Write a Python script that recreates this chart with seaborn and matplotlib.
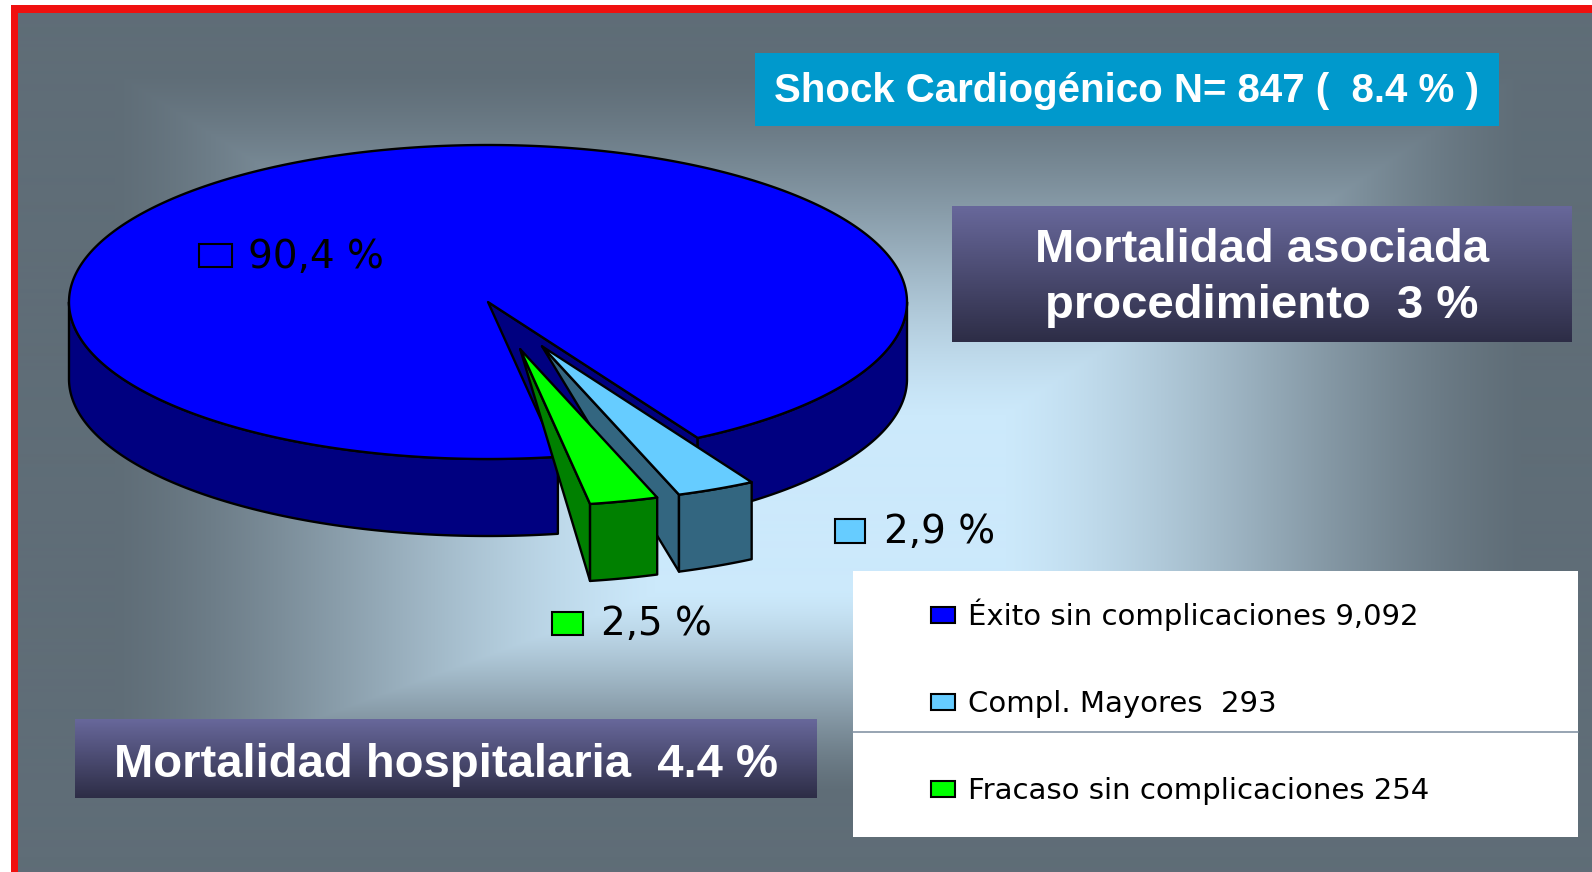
import numpy as np
import matplotlib
matplotlib.use("Agg")
import matplotlib.pyplot as plt
from matplotlib.patches import Rectangle, Polygon
from matplotlib.colors import LinearSegmentedColormap, to_rgb
import seaborn as sns

# ---------------- data ----------------
categories = ["Éxito sin complicaciones", "Compl. Mayores", "Fracaso sin complicaciones"]
counts = [9092, 293, 254]
legend_labels = ["Éxito sin complicaciones 9,092", "Compl. Mayores  293", "Fracaso sin complicaciones 254"]
pct_labels = ["90,4 %", "2,9 %", "2,5 %"]
explode = [0.0, 0.31, 0.31]
title_text = "Shock Cardiogénico N= 847 (  8.4 % )"
box1_lines = ["Mortalidad asociada", "procedimiento  3 %"]
box2_text = "Mortalidad hospitalaria  4.4 %"

# ---------------- style ----------------
sns.set_theme(style="white")
plt.rcParams["font.family"] = ["DejaVu Sans"]
top_colors = sns.color_palette(["#0000ff", "#66ccff", "#00ff00"])
side_colors = sns.color_palette(["#000080", "#336680", "#008000"])

W, H = 1592, 872
fig = plt.figure(figsize=(W / 100, H / 100), dpi=100)
fig.patch.set_facecolor("white")
ax = fig.add_axes([0, 0, 1, 1])
ax.set_axis_off()

# background rectangular gradient
bx0, by0 = 18, 13
xs = np.arange(bx0, W) + 0.5
ys = np.arange(by0, H) + 0.5
X, Y = np.meshgrid(xs, ys)
gcx, gcy = 835, 528
dx = X - gcx
dy = Y - gcy
tx = np.where(dx < 0, -dx / 817.0, dx / 780.0)
ty = np.where(dy < 0, -dy / 515.0, dy / 300.0)
t = np.maximum(tx, ty)
f = np.clip((t - 0.22) / 0.66, 0, 1)
f = f * f * (3 - 2 * f) * 0.5 + f * 0.5
c0 = np.array(to_rgb("#cce9fb"))
c1 = np.array(to_rgb("#5f6d77"))
img = c0[None, None, :] + (c1 - c0)[None, None, :] * f[..., None]
ax.imshow(img, extent=[bx0, W, H, by0], origin="upper", aspect="auto",
          interpolation="bilinear", zorder=0)

# red frame (top & left)
red = "#f0100f"
ax.add_patch(Rectangle((11, 5), W - 11, 8.5, facecolor=red, edgecolor="none", zorder=1))
ax.add_patch(Rectangle((11, 5), 7, H - 5, facecolor=red, edgecolor="none", zorder=1))

# ---------------- 3D pie ----------------
cx, cy, ra, rb, depth = 488, 302, 419, 157, 77
start_angle = -80.4   # first slice edge, slices run clockwise
lw = 1.7
total = float(sum(counts))
spans = [360.0 * c / total for c in counts]


def P(th, r, ox, oy, z):
    tr = np.radians(th)
    return cx + ox + ra * r * np.cos(tr), cy + oy - rb * r * np.sin(tr) + z


def front_intervals(lo, hi):
    out = []
    for k in range(-3, 4):
        s, e = k * 360 - 180, k * 360
        s2, e2 = max(lo, s), min(hi, e)
        if e2 > s2:
            out.append((s2, e2))
    return out


zc = 5
hi = start_angle
for i, span in enumerate(spans):
    lo = hi - span
    mid = np.radians((lo + hi) / 2)
    ox = explode[i] * ra * np.cos(mid)
    oy = -explode[i] * rb * np.sin(mid)
    sc, tc = side_colors[i], top_colors[i]
    # radial walls
    for edge, vis in ((lo, np.cos(np.radians(lo)) > 0), (hi, np.cos(np.radians(hi)) < 0)):
        if vis:
            if explode[i] > 0:
                pts = [P(edge, 0, ox, oy, 0), P(edge, 1, ox, oy, 0), P(edge, 1, ox, oy, depth)]
            else:
                pts = [P(edge, 0, ox, oy, 0), P(edge, 1, ox, oy, 0),
                       P(edge, 1, ox, oy, depth), P(edge, 0, ox, oy, depth)]
            ax.add_patch(Polygon(pts, closed=True, facecolor=sc, edgecolor="black",
                                 lw=lw, joinstyle="round", zorder=zc))
    # outer rim walls
    for s, e in front_intervals(lo, hi):
        th = np.linspace(s, e, max(int((e - s) * 4), 4))
        top = [P(v, 1, ox, oy, 0) for v in th]
        bot = [P(v, 1, ox, oy, depth) for v in th[::-1]]
        ax.add_patch(Polygon(top + bot, closed=True, facecolor=sc, edgecolor="black",
                             lw=lw, joinstyle="round", zorder=zc))
    # top face
    th = np.linspace(lo, hi, max(int(span * 4), 4))
    pts = [P(lo, 0, ox, oy, 0)] + [P(v, 1, ox, oy, 0) for v in th]
    ax.add_patch(Polygon(pts, closed=True, facecolor=tc, edgecolor="black",
                         lw=lw, joinstyle="round", zorder=zc + 1))
    zc += 2
    hi = lo

# percentage labels with keys
lab_boxes = [(199, 244, 33, 23), (835, 519, 30, 24), (552, 612, 31, 23)]
lab_text_xy = [(248, 268), (884, 543), (601, 635)]
for i, lab in enumerate(pct_labels):
    x0, y0, w0, h0 = lab_boxes[i]
    fc = "none" if i == 0 else top_colors[i]
    ax.add_patch(Rectangle((x0, y0), w0, h0, facecolor=fc, edgecolor="black", lw=1.5, zorder=30))
    ax.text(lab_text_xy[i][0], lab_text_xy[i][1], lab, fontsize=28, color="black",
            ha="left", va="baseline", family=["DejaVu Sans"], zorder=30)

# ---------------- title boxes ----------------
bold = ["Liberation Sans", "DejaVu Sans"]
ax.add_patch(Rectangle((755, 53), 744, 73, facecolor="#0099cc", edgecolor="none", zorder=20))
ax.text(1127, 102.5, title_text, fontsize=29, weight="bold", color="white",
        ha="center", va="baseline", family=bold, zorder=21)


def grad_box(x0, y0, x1, y1, ctop, cbot):
    cmap = LinearSegmentedColormap.from_list("g", [ctop, cbot])
    ax.imshow(np.linspace(0, 1, 256)[:, None], cmap=cmap, extent=[x0, x1, y1, y0],
              origin="upper", aspect="auto", interpolation="bilinear", zorder=20)


grad_box(952, 206, 1572, 342, "#68689b", "#2d2d46")
ax.text(1262, 262, box1_lines[0], fontsize=34, weight="bold", color="white",
        ha="center", va="baseline", family=bold, zorder=21)
ax.text(1262, 318, box1_lines[1], fontsize=34, weight="bold", color="white",
        ha="center", va="baseline", family=bold, zorder=21)

grad_box(75, 720, 817, 798, "#68689b", "#2d2d46")
ax.text(446, 777, box2_text, fontsize=34, weight="bold", color="white",
        ha="center", va="baseline", family=bold, zorder=21)

# ---------------- legend ----------------
ax.add_patch(Rectangle((853, 571), 725, 266, facecolor="white", edgecolor="none", zorder=20))
ax.plot([853, 1578], [732, 732], color="#8595a5", lw=1.2, zorder=21)
leg_rows = [625, 712, 799]
for i, lab in enumerate(legend_labels):
    yb = leg_rows[i]
    ax.add_patch(Rectangle((931, yb - 18), 24, 16, facecolor=top_colors[i], edgecolor="black",
                           lw=1.5, zorder=22))
    ax.text(968, yb, lab, fontsize=21, color="black", ha="left", va="baseline",
            family=["DejaVu Sans"], zorder=22)

ax.set_xlim(0, W)
ax.set_ylim(H, 0)
fig.savefig("out.png", dpi=100, facecolor="white")
